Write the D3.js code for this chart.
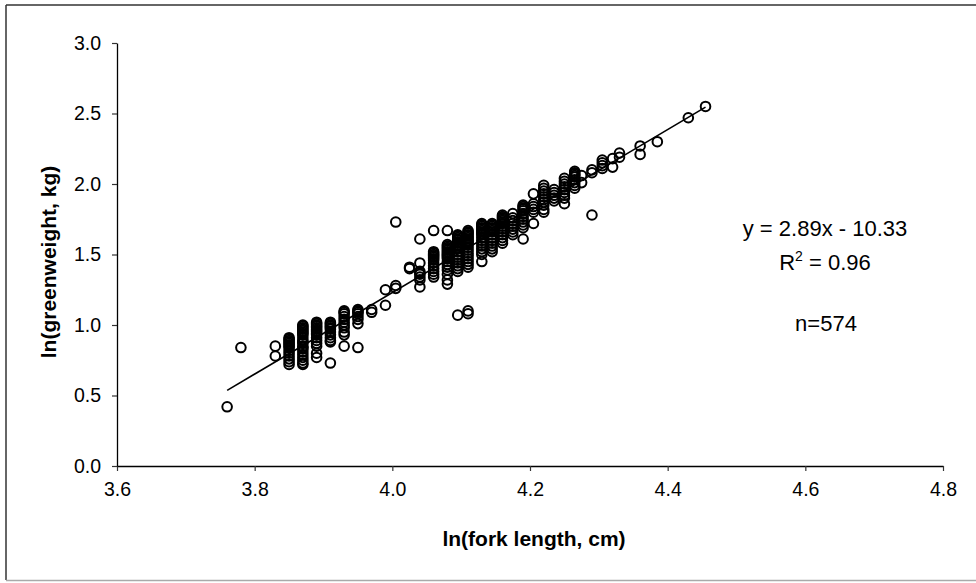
<!DOCTYPE html>
<html><head><meta charset="utf-8">
<script src="https://cdn.jsdelivr.net/npm/d3@7"></script>
<style>
html,body{margin:0;padding:0;background:#fff;}
svg{display:block;}
text{font-family:"Liberation Sans",Arial,Helvetica,sans-serif;fill:#000;}
</style></head>
<body>
<script>
// x tick labels, y tick labels
const xTicks = [3.6, 3.8, 4.0, 4.2, 4.4, 4.6, 4.8];
const yTicks = [0.0, 0.5, 1.0, 1.5, 2.0, 2.5, 3.0];

// observations grouped by ln(fork length) column
const lnLength = [3.76, 3.78, 3.83, 3.85, 3.87, 3.89, 3.91, 3.93, 3.95, 3.97, 3.99, 4.005, 4.025, 4.04, 4.06, 4.08,
  4.095, 4.11, 4.13, 4.145, 4.16, 4.175, 4.19, 4.205, 4.22, 4.235, 4.25, 4.265, 4.275, 4.29, 4.305, 4.32, 4.33,
  4.36, 4.385, 4.43, 4.455];
const lnWeight = [
  [0.42],
  [0.84],
  [0.85, 0.78],
  [0.91, 0.90, 0.89, 0.88, 0.87, 0.86, 0.85, 0.84, 0.82, 0.80, 0.78, 0.76, 0.74, 0.72],
  [1.00, 0.99, 0.98, 0.97, 0.96, 0.95, 0.94, 0.93, 0.91, 0.89, 0.88, 0.87, 0.85, 0.84, 0.83, 0.81, 0.79, 0.77, 0.75, 0.73, 0.72],
  [1.02, 1.01, 1.00, 0.99, 0.98, 0.97, 0.96, 0.95, 0.94, 0.93, 0.91, 0.89, 0.87, 0.85, 0.80, 0.77],
  [1.02, 1.01, 1.00, 0.99, 0.98, 0.97, 0.95, 0.93, 0.91, 0.89, 0.88, 0.73],
  [1.10, 1.09, 1.08, 1.06, 1.04, 1.02, 1.00, 0.98, 0.95, 0.93, 0.85],
  [1.11, 1.10, 1.09, 1.08, 1.06, 1.04, 1.01, 0.84],
  [1.11, 1.09],
  [1.25, 1.14],
  [1.26, 1.28, 1.73],
  [1.40, 1.41],
  [1.61, 1.44, 1.38, 1.37, 1.36, 1.34, 1.32, 1.27],
  [1.67, 1.52, 1.51, 1.50, 1.49, 1.48, 1.47, 1.46, 1.44, 1.42, 1.40, 1.38, 1.36, 1.34],
  [1.67, 1.57, 1.56, 1.55, 1.54, 1.53, 1.52, 1.51, 1.50, 1.49, 1.48, 1.47, 1.45, 1.43, 1.41, 1.39, 1.36, 1.32, 1.29],
  [1.64, 1.63, 1.62, 1.61, 1.60, 1.59, 1.58, 1.57, 1.56, 1.55, 1.54, 1.52, 1.50, 1.48, 1.46, 1.44, 1.42, 1.40, 1.38, 1.07],
  [1.67, 1.66, 1.65, 1.64, 1.63, 1.62, 1.61, 1.60, 1.59, 1.58, 1.57, 1.55, 1.53, 1.51, 1.49, 1.47, 1.45, 1.43, 1.41, 1.10, 1.08],
  [1.72, 1.71, 1.70, 1.69, 1.68, 1.67, 1.66, 1.65, 1.64, 1.62, 1.60, 1.58, 1.56, 1.54, 1.52, 1.50, 1.45],
  [1.72, 1.71, 1.70, 1.69, 1.68, 1.67, 1.66, 1.64, 1.62, 1.60, 1.58, 1.56, 1.54, 1.52],
  [1.78, 1.77, 1.76, 1.75, 1.74, 1.73, 1.72, 1.70, 1.68, 1.66, 1.64, 1.62, 1.60, 1.58],
  [1.79, 1.76, 1.74, 1.72, 1.70, 1.68, 1.66, 1.64],
  [1.85, 1.84, 1.83, 1.82, 1.81, 1.79, 1.77, 1.75, 1.73, 1.71, 1.69, 1.61],
  [1.93, 1.86, 1.84, 1.82, 1.80, 1.72],
  [1.99, 1.97, 1.95, 1.93, 1.91, 1.89, 1.87, 1.85, 1.82, 1.80],
  [1.96, 1.94, 1.92, 1.90, 1.88],
  [2.04, 2.02, 2.00, 1.98, 1.96, 1.94, 1.92, 1.90, 1.86],
  [2.09, 2.08, 2.07, 2.06, 2.05, 2.03, 2.01, 1.99, 1.97],
  [2.01, 2.06],
  [2.10, 2.08, 1.78],
  [2.17, 2.15, 2.13, 2.11],
  [2.18, 2.12],
  [2.22, 2.19],
  [2.27, 2.21],
  [2.30],
  [2.47],
  [2.55]
];

// fitted trend line endpoints (x range) and coefficients
const fitX = [3.76, 4.455];
const slope = 2.89, intercept = -10.33;
const annotations = ["y = 2.89x - 10.33", "R", "2", " = 0.96", "n=574"];

const W = 976, H = 583;
const svg = d3.select("body").append("svg").attr("width", W).attr("height", H);

// frame
svg.append("line").attr("x1", 6).attr("x2", W).attr("y1", 5).attr("y2", 5).attr("stroke", "#333").attr("stroke-width", 1.5);
svg.append("line").attr("x1", 6).attr("x2", 6).attr("y1", 5).attr("y2", 580).attr("stroke", "#333").attr("stroke-width", 1.5);
svg.append("line").attr("x1", 6).attr("x2", W).attr("y1", 580.5).attr("y2", 580.5).attr("stroke", "#aaa").attr("stroke-width", 1.5);

const x = d3.scaleLinear().domain([3.6, 4.8]).range([117, 943]);
const y = d3.scaleLinear().domain([0, 3]).range([466, 43]);

const xAxis = svg.append("g").attr("transform", "translate(0,466)")
  .call(d3.axisBottom(x).tickValues(xTicks).tickFormat(d3.format(".1f")).tickSize(5).tickSizeOuter(0).tickPadding(11));
const yAxis = svg.append("g").attr("transform", "translate(117,0)")
  .call(d3.axisLeft(y).tickValues(yTicks).tickFormat(d3.format(".1f")).tickSize(5).tickSizeOuter(0).tickPadding(11));
[xAxis, yAxis].forEach(g => {
  g.select(".domain").attr("stroke", "#000").attr("stroke-width", 1.3);
  g.selectAll(".tick line").attr("stroke", "#333").attr("stroke-width", 1.2);
  g.selectAll(".tick text").attr("font-size", 19.5).attr("font-family", '"Liberation Sans",Arial,sans-serif').attr("fill", "#111");
});

// points
const pts = [];
lnLength.forEach((lx, i) => lnWeight[i].forEach(v => pts.push([lx, v])));
svg.append("g").selectAll("circle").data(pts).join("circle")
  .attr("cx", d => x(d[0])).attr("cy", d => y(d[1])).attr("r", 4.8)
  .attr("fill", "none").attr("stroke", "#000").attr("stroke-width", 2);

// trend line
svg.append("line")
  .attr("x1", x(fitX[0])).attr("y1", y(slope * fitX[0] + intercept))
  .attr("x2", x(fitX[1])).attr("y2", y(slope * fitX[1] + intercept))
  .attr("stroke", "#000").attr("stroke-width", 1.6);

// annotations
svg.append("text").attr("x", 825).attr("y", 236).attr("text-anchor", "middle").attr("font-size", 22).text(annotations[0]);
const r2 = svg.append("text").attr("x", 825).attr("y", 270).attr("text-anchor", "middle").attr("font-size", 22);
r2.append("tspan").text(annotations[1]);
r2.append("tspan").attr("font-size", 14).attr("dy", -9).text(annotations[2]);
r2.append("tspan").attr("dy", 9).text(annotations[3]);
svg.append("text").attr("x", 826).attr("y", 331).attr("text-anchor", "middle").attr("font-size", 22).text(annotations[4]);

// axis titles
svg.append("text").attr("x", 534).attr("y", 546).attr("text-anchor", "middle")
  .attr("font-size", 21).attr("font-weight", "bold").text("ln(fork length, cm)");
svg.append("text").attr("transform", "translate(56,262) rotate(-90)").attr("text-anchor", "middle")
  .attr("font-size", 21).attr("font-weight", "bold").text("ln(greenweight, kg)");
</script>
</body></html>
